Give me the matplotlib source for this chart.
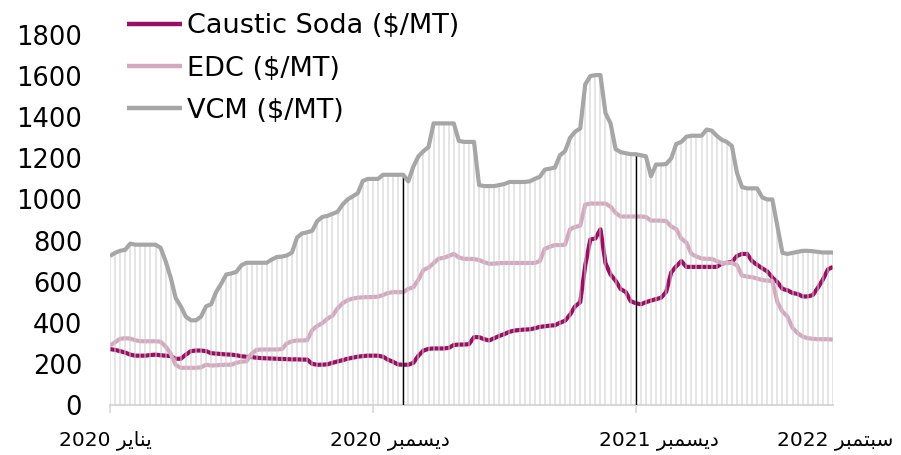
import numpy as np
import matplotlib
matplotlib.use('Agg')
import matplotlib.pyplot as plt

plt.rcParams['font.family'] = ['DejaVu Sans']

# weekly prices, Jan 2020 - Sep 2022 ($/MT)
vcm = [725, 740, 750, 755, 785, 780, 780, 780, 780, 780,
       765, 700, 620, 520, 480, 430, 412, 412, 430, 480,
       490, 550, 590, 635, 640, 648, 680, 692, 692, 692,
       692, 692, 708, 720, 722, 728, 742, 815, 835, 840,
       848, 895, 915, 920, 930, 940, 975, 1000, 1015, 1030,
       1090, 1100, 1100, 1100, 1120, 1120, 1120, 1120, 1120, 1088,
       1160, 1210, 1235, 1255, 1370, 1370, 1370, 1370, 1370, 1285,
       1280, 1280, 1280, 1070, 1065, 1065, 1065, 1070, 1075, 1085,
       1085, 1085, 1085, 1088, 1100, 1110, 1145, 1150, 1155, 1215,
       1235, 1300, 1330, 1345, 1560, 1600, 1605, 1605, 1420, 1370,
       1245, 1230, 1225, 1220, 1220, 1215, 1210, 1113, 1170, 1170,
       1172, 1200, 1270, 1280, 1305, 1310, 1310, 1310, 1340, 1335,
       1310, 1290, 1280, 1260, 1130, 1060, 1054, 1054, 1054, 1010,
       1000, 1000, 870, 740, 735, 740, 745, 750, 750, 748,
       745, 742, 742, 742]

edc = [290, 305, 322, 325, 323, 315, 310, 310, 310, 310,
       308, 285, 250, 195, 181, 181, 181, 181, 183, 196,
       192, 193, 195, 196, 196, 205, 211, 212, 250, 268,
       270, 270, 270, 270, 272, 300, 310, 314, 314, 315,
       365, 385, 398, 420, 434, 470, 495, 510, 518, 522,
       524, 525, 525, 527, 535, 545, 549, 549, 549, 565,
       573, 610, 657, 668, 690, 712, 716, 725, 735, 718,
       711, 711, 710, 705, 695, 687, 688, 690, 691, 691,
       691, 691, 691, 691, 691, 700, 760, 770, 778, 778,
       780, 855, 866, 872, 975, 980, 980, 980, 980, 965,
       935, 917, 917, 917, 917, 917, 915, 897, 897, 897,
       895, 868, 856, 810, 790, 735, 722, 713, 711, 711,
       700, 691, 691, 691, 680, 630, 625, 622, 615, 608,
       605, 603, 500, 455, 430, 375, 350, 333, 325, 322,
       320, 320, 320, 318]

caustic = [272, 268, 262, 255, 245, 240, 240, 240, 243, 245,
           242, 240, 238, 225, 225, 245, 262, 265, 265, 262,
           252, 250, 248, 246, 245, 242, 237, 235, 233, 230,
           228, 227, 226, 225, 224, 223, 222, 222, 221, 221,
           200, 196, 196, 198, 205, 212, 218, 225, 230, 235,
           238, 240, 240, 240, 235, 220, 210, 197, 196, 196,
           205, 240, 265, 273, 275, 275, 275, 278, 292, 294,
           294, 296, 330, 330, 320, 314, 325, 336, 345, 356,
           362, 365, 367, 368, 373, 380, 383, 386, 388, 400,
           410, 440, 480, 500, 680, 805, 810, 855, 690, 635,
           605, 564, 550, 505, 495, 490, 500, 508, 515, 522,
           550, 645, 675, 700, 672, 672, 672, 672, 672, 672,
           672, 688, 692, 696, 725, 735, 735, 700, 682, 665,
           650, 620, 598, 565, 558, 545, 540, 528, 528, 535,
           570, 610, 660, 672]

series_names = ['Caustic Soda ($/MT)', 'EDC ($/MT)', 'VCM ($/MT)']
date_labels = ['يناير 2020', 'ديسمبر 2020', 'ديسمبر 2021', 'سبتمبر 2022']
date_label_idx = [-1, 55.4, 108.5, 143.5]
tick_idx = [0, 52, 104]
marker_idx = [58, 104]

# matplotlib has no arabic shaping, so map letters to presentation forms
# (isolated, final, initial, medial); None = letter does not join forward
FORMS = {
    'ا': ('\ufe8d', '\ufe8e', None, None),
    'ب': ('\ufe8f', '\ufe90', '\ufe91', '\ufe92'),
    'ت': ('\ufe95', '\ufe96', '\ufe97', '\ufe98'),
    'د': ('\ufea9', '\ufeaa', None, None),
    'ر': ('\ufead', '\ufeae', None, None),
    'س': ('\ufeb1', '\ufeb2', '\ufeb3', '\ufeb4'),
    'م': ('\ufee1', '\ufee2', '\ufee3', '\ufee4'),
    'ن': ('\ufee5', '\ufee6', '\ufee7', '\ufee8'),
    'ي': ('\ufef1', '\ufef2', '\ufef3', '\ufef4'),
}


def shape_word(w):
    out = []
    for k, ch in enumerate(w):
        iso, fin, ini, med = FORMS[ch]
        jp = k > 0 and FORMS[w[k - 1]][2] is not None
        jn = k < len(w) - 1 and ini is not None
        if jp and jn:
            out.append(med)
        elif jp:
            out.append(fin)
        elif jn:
            out.append(ini)
        else:
            out.append(iso)
    return ''.join(reversed(out))


def visual(label):
    parts = [shape_word(p) if p[0] in FORMS else p for p in label.split()]
    return ' '.join(reversed(parts))


x = np.arange(len(vcm))
vcm_a = np.array(vcm)

fig = plt.figure(figsize=(9.01, 4.55), dpi=100)
ax = fig.add_axes([110 / 901, 50 / 455, 723 / 901, 370 / 455])

ax.plot(x, caustic, color='#9c0e63', lw=3.0, zorder=2, solid_capstyle='butt')
ax.plot(x, edc, color='#d6a8bf', lw=3.0, zorder=2, solid_capstyle='butt')
ax.vlines(x, 0, vcm_a, color='#cccccc', lw=1.2, alpha=0.6, zorder=3)
ax.vlines(marker_idx, 0, vcm_a[marker_idx], color='black', lw=1.0, zorder=4)
ax.plot(x, vcm, color='#a6a6a6', lw=3.0, zorder=5, solid_capstyle='butt')

ax.set_xlim(0, len(vcm) - 1)
ax.set_ylim(0, 1800)
ax.set_yticks(range(0, 1801, 200))
ax.set_xticks(tick_idx)
ax.set_xticklabels([])
ax.tick_params(axis='y', length=0, pad=20, labelsize=18.5)
ax.tick_params(axis='x', length=6, width=1.2, color='#d9d9d9', direction='out')

for s in ['top', 'right', 'left']:
    ax.spines[s].set_visible(False)
ax.spines['bottom'].set_color('#d9d9d9')
ax.spines['bottom'].set_linewidth(1.5)

trans = ax.get_xaxis_transform()
for pos, lab in zip(date_label_idx, date_labels):
    ax.text(pos, -0.095, visual(lab), transform=trans, ha='center', va='center',
            fontsize=14.5)

lines = ax.get_lines()
leg = ax.legend([lines[0], lines[1], lines[2]], series_names, loc='upper left',
                bbox_to_anchor=(122 / 901, 1 - 8 / 455), bbox_transform=fig.transFigure,
                frameon=False, fontsize=19.5, handlelength=2.0, handletextpad=0.2,
                labelspacing=0.6, borderaxespad=0, borderpad=0.2)
for h in leg.get_lines():
    h.set_linewidth(3.2)

fig.savefig('out.png', dpi=100)
